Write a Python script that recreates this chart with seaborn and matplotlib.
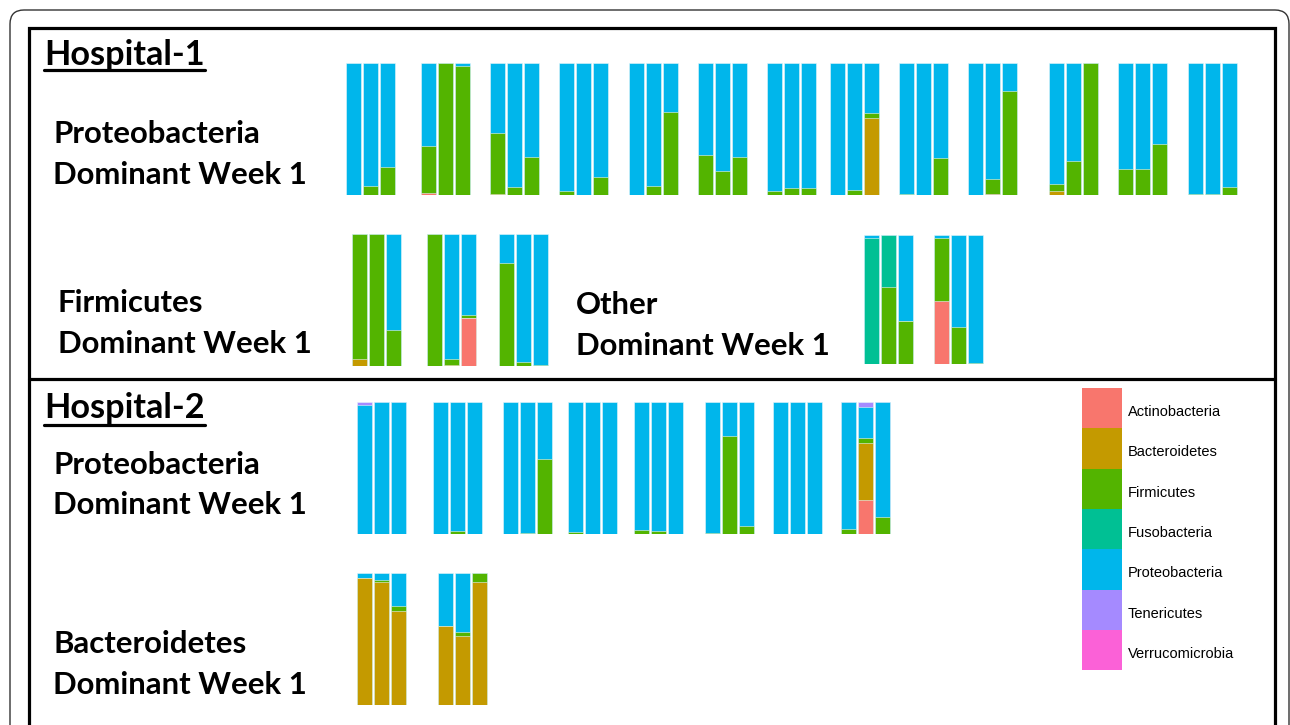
import pandas as pd
import seaborn as sns
import matplotlib.pyplot as plt
from matplotlib.patches import Rectangle, FancyBboxPatch
from matplotlib.lines import Line2D
from matplotlib.transforms import IdentityTransform

sns.set_theme(style="white")
plt.rcParams["font.family"] = ["Lato", "DejaVu Sans"]

# ---------------------------------------------------------
# phyla (stacked bottom -> top) and ggplot-style colours
# ---------------------------------------------------------
phyla = ["Actinobacteria", "Bacteroidetes", "Firmicutes", "Fusobacteria",
         "Proteobacteria", "Tenericutes", "Verrucomicrobia"]
phylum_colors = ["#F8766D", "#C49A00", "#53B400", "#00C094",
                 "#00B6EB", "#A58AFF", "#FB61D7"]
weeks = ["Week 1", "Week 2", "Week 3"]

# Hospital-1, Proteobacteria dominant week 1 (13 patients x 3 weeks, %)
h1_prot_actino = [0, 0, 0, 1.5, 0, 0, 0, 0, 0, 0, 0, 0, 0, 0, 0, 0, 0, 0, 0, 0, 0,
                  0, 0, 0, 0, 0, 0, 0, 1, 0, 0, 0, 0, 0, 0, 0, 0, 0, 0]
h1_prot_bact = [0, 0, 0, 0, 0, 0, 1, 0, 0, 0, 0, 0, 0, 0, 0, 0, 0, 0, 0, 0, 0,
                0, 0, 58.5, 0, 0, 0, 0, 0, 0, 3, 0, 0, 0, 0, 0, 0, 0, 0]
h1_prot_firm = [0, 7, 21, 35.5, 100, 98, 46, 6, 28.5, 3, 0, 14, 0, 7, 63,
                30, 18.5, 29, 3, 5, 5.5, 0, 3.5, 4, 0.5, 0, 28, 0, 11.5, 79,
                5, 26, 100, 20, 20, 38.5, 0.5, 0.5, 5.7]
h1_prot_prot = [100, 93, 79, 63, 0, 2, 53, 94, 71.5, 97, 100, 86, 100, 93, 37,
                70, 81.5, 71, 97, 95, 94.5, 100, 96.5, 37.5, 99.5, 100, 72,
                100, 87.5, 21, 92, 74, 0, 80, 80, 61.5, 99.5, 99.5, 94.3]

# Hospital-1, Firmicutes dominant week 1
h1_firm_actino = [0, 0, 0, 0, 0, 36, 0, 0, 0]
h1_firm_bact = [5.5, 0, 0, 0, 0.5, 0, 0, 0, 0]
h1_firm_firm = [94.5, 100, 27.5, 100, 4.5, 3, 78, 3, 0.5]
h1_firm_prot = [0, 0, 72.5, 0, 95, 61, 22, 97, 99.5]

# Hospital-1, Other dominant week 1
h1_other_actino = [0, 0, 0, 49, 0, 0]
h1_other_firm = [0, 60, 33, 49, 28.5, 0.5]
h1_other_fuso = [97.5, 40, 0, 0, 0, 0]
h1_other_prot = [2.5, 0, 67, 2, 71.5, 99.5]

# Hospital-2, Proteobacteria dominant week 1 (8 patients)
h2_prot_actino = [0, 0, 0, 0, 0, 0, 0, 0, 0, 0, 0, 0,
                  0, 0, 0, 0, 0, 0, 0, 0, 0, 0, 25.5, 0]
h2_prot_bact = [0, 0, 0, 0, 0, 0, 0, 0, 0, 0, 0, 0,
                0, 0, 0, 0, 0, 0, 0, 0, 0, 0, 43.5, 0]
h2_prot_firm = [0.3, 0.3, 0.3, 0, 2, 0, 0, 1, 56.5, 1.5, 0, 0,
                3, 2.5, 0, 0.5, 74, 6, 0, 0, 0, 4, 3.5, 13]
h2_prot_prot = [97.2, 99.7, 99.7, 100, 98, 100, 100, 99, 43.5, 98.5, 100, 100,
                97, 97.5, 100, 99.5, 26, 94, 100, 100, 100, 96, 23.5, 87]
h2_prot_ten = [2.5, 0, 0, 0, 0, 0, 0, 0, 0, 0, 0, 0,
               0, 0, 0, 0, 0, 0, 0, 0, 0, 0, 4, 0]

# Hospital-2, Bacteroidetes dominant week 1
h2_bact_bact = [96, 93, 71.5, 59.5, 52.5, 93.5]
h2_bact_firm = [0, 1.5, 3.5, 0, 3, 6.5]
h2_bact_prot = [4, 5.5, 25, 40.5, 44.5, 0]

# ---------------------------------------------------------
# figure helpers (pixel layout, origin top-left)
# ---------------------------------------------------------
W, H = 1290, 725
fig = plt.figure(figsize=(W / 100, H / 100), dpi=100)
fig.patch.set_facecolor("white")


def fig_rect(x0, y0, x1, y1):
    return [x0 / W, 1 - y1 / H, (x1 - x0) / W, (y1 - y0) / H]


def draw_panel(table, lefts, top, bottom, width=51):
    table = table.reindex(columns=phyla, fill_value=0)
    for g, x0 in enumerate(lefts):
        block = table.iloc[g * 3:(g + 1) * 3].reset_index(drop=True)
        cum = block.cumsum(axis=1)
        ax = fig.add_axes(fig_rect(x0, top, x0 + width, bottom))
        # draw the tallest cumulative layer first, lower layers cover it
        for j in range(len(phyla) - 1, -1, -1):
            if block.iloc[:, j].sum() == 0:
                continue
            sns.barplot(x=weeks, y=cum.iloc[:, j].values, color=phylum_colors[j],
                        saturation=1, width=0.92, errorbar=None,
                        edgecolor="#e6f6fb", linewidth=0.4, ax=ax)
        ax.set_xlim(-0.5, 2.5)
        ax.set_ylim(0, 100)
        ax.axis("off")


draw_panel(pd.DataFrame({"Actinobacteria": h1_prot_actino, "Bacteroidetes": h1_prot_bact,
                         "Firmicutes": h1_prot_firm, "Proteobacteria": h1_prot_prot}),
           [345, 420, 489, 558, 628, 697, 766, 829, 898, 967, 1048, 1117, 1187], 63, 195)
draw_panel(pd.DataFrame({"Actinobacteria": h1_firm_actino, "Bacteroidetes": h1_firm_bact,
                         "Firmicutes": h1_firm_firm, "Proteobacteria": h1_firm_prot}),
           [351, 426, 498], 234, 366)
draw_panel(pd.DataFrame({"Actinobacteria": h1_other_actino, "Firmicutes": h1_other_firm,
                         "Fusobacteria": h1_other_fuso, "Proteobacteria": h1_other_prot}),
           [863, 933], 235, 364)
draw_panel(pd.DataFrame({"Actinobacteria": h2_prot_actino, "Bacteroidetes": h2_prot_bact,
                         "Firmicutes": h2_prot_firm, "Proteobacteria": h2_prot_prot,
                         "Tenericutes": h2_prot_ten}),
           [356, 432, 502, 567, 633, 704, 772, 840], 402, 534)
draw_panel(pd.DataFrame({"Bacteroidetes": h2_bact_bact, "Firmicutes": h2_bact_firm,
                         "Proteobacteria": h2_bact_prot}),
           [356, 437], 573, 705)

# ---------------------------------------------------------
# frames
# ---------------------------------------------------------
px = IdentityTransform()
fig.add_artist(FancyBboxPatch((10, -40), 1279, H - 10 + 40,
                              boxstyle="round,pad=0,rounding_size=14",
                              fill=False, ec="#333333", lw=1.0, transform=px))
fig.add_artist(Rectangle((29, -40), 1246, H - 28 + 40, fill=False,
                         ec="black", lw=2.3, transform=px))
fig.add_artist(Line2D([29, 1275], [H - 379, H - 379], color="black", lw=2.3,
                      transform=px))

# ---------------------------------------------------------
# labels (font sizes fitted to the reference widths)
# ---------------------------------------------------------
probe = fig.text(0, 0, "Dominant Week 1", fontsize=20, fontweight="bold")
probe_h = fig.text(0, 0, "Hospital-1", fontsize=20, fontweight="bold")
fig.canvas.draw()
fs = 20 * 254 / probe.get_window_extent().width
fs_h = 20 * 161 / probe_h.get_window_extent().width
probe.remove()
probe_h.remove()

labels = [("Hospital-1", 44, 65), ("Proteobacteria", 53, 143),
          ("Dominant Week 1", 53, 184), ("Firmicutes", 58, 312),
          ("Dominant Week 1", 58, 353), ("Other", 576, 314),
          ("Dominant Week 1", 576, 355), ("Hospital-2", 44, 418),
          ("Proteobacteria", 53, 474), ("Dominant Week 1", 53, 514),
          ("Bacteroidetes", 53, 653), ("Dominant Week 1", 53, 694)]
texts = {}
for s, x, y in labels:
    size = fs_h if s.startswith("Hospital") else fs
    t = fig.text(x / W, 1 - y / H, s, fontsize=size, fontweight="bold",
                 color="black", ha="left", va="baseline")
    texts.setdefault(s, t)

fig.canvas.draw()
for name, y in [("Hospital-1", 70), ("Hospital-2", 425)]:
    bb = texts[name].get_window_extent()
    fig.add_artist(Line2D([bb.x0, bb.x1], [H - y, H - y], color="black",
                          lw=2.3, transform=px))

# ---------------------------------------------------------
# legend
# ---------------------------------------------------------
key_h = 40.3
for i, (name, col) in enumerate(zip(phyla, phylum_colors)):
    y0 = 388 + i * key_h
    fig.add_artist(Rectangle((1082, H - y0 - key_h), 40, key_h, color=col,
                             lw=0, transform=px))
    fig.text(1128 / W, 1 - (y0 + key_h / 2 + 4) / H, name, fontsize=10.5,
             family=["Liberation Sans", "DejaVu Sans"], color="black",
             ha="left", va="center")

fig.savefig("out.png", dpi=100)
